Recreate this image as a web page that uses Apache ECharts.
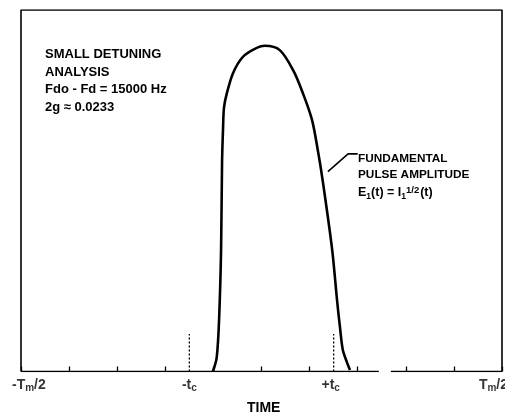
<!DOCTYPE html>
<html><head><meta charset="utf-8">
<script src="https://cdn.jsdelivr.net/npm/echarts@6/dist/echarts.min.js"></script>
<style>html,body{margin:0;padding:0;background:#fff}#c{width:505px;height:417px}</style>
</head><body><div id="c"></div>
<script>
// Data
const pulseTime = [-1.01, -0.93, -0.88, -0.84, -0.82, -0.80, -0.78, -0.72, -0.59, -0.39, -0.15, 0.07, 0.38, 0.66, 0.86, 1.05, 1.18, 1.28, 1.47, 1.57, 1.63, 1.69, 1.78, 1.84];
const pulseAmp  = [0, 4, 15, 34, 58, 67, 73, 77, 82.6, 87, 89.2, 90.1, 88.9, 83.3, 77, 69.6, 60.5, 52.1, 33.6, 19.8, 12.4, 6, 2.4, 0.4];
const tcTimes = [-1.5, 1.5];
const tcHeight = 10.4;
const tickLabelTimes = [-5, -1.5, 1.5, 5];
const tickLabels = ['-T{s|m}/2', '-t{s|c}', '+t{s|c}', 'T{s|m}/2'];
const baselineGap = [2.44, 2.69];
const xMin = -5, xMax = 5, yMax = 100;
const leaderTime = [2.0, 1.8, 1.38];
const leaderAmp = [60.2, 60.2, 55.3];

const FONT = '"Liberation Sans", Arial, sans-serif';
const chart = echarts.init(document.getElementById('c'));

const curve = pulseTime.map((t, i) => [t, pulseAmp[i]]);
const baseline = [[xMin, 0], [baselineGap[0], 0], null, [baselineGap[1], 0], [xMax, 0]];
const frame = [[xMin, 0], [xMin, yMax], [xMax, yMax], [xMax, 0]];
const tcLines = [];
tcTimes.forEach(t => { tcLines.push([t, 0], [t, tcHeight], null); });
const labelData = tickLabelTimes.map((t, i) => {
  const item = { value: [t, 0], label: { formatter: tickLabels[i] } };
  if (i === 0) item.label.align = 'left', item.label.offset = [-9, 0];
  if (i === tickLabelTimes.length - 1) item.label.align = 'right', item.label.offset = [6, 0];
  if (i === 2) item.label.offset = [-3, 0];
  return item;
});
const leader = leaderTime.map((t, i) => [t, leaderAmp[i]]);

const richBase = {
  s: { fontSize: 10, fontWeight: 'bold', fontFamily: FONT, color: '#000', padding: [7, 0, 0, 0] }
};

chart.setOption({
  animation: false,
  backgroundColor: '#fff',
  grid: { left: 21, right: 3, top: 10, bottom: 45.5 },
  xAxis: {
    type: 'value', min: xMin, max: xMax, interval: 1,
    axisLine: { show: false },
    axisTick: { show: true, inside: true, length: 5, lineStyle: { color: '#000', width: 1.3 } },
    axisLabel: { show: false },
    splitLine: { show: false }
  },
  yAxis: { type: 'value', min: 0, max: yMax, show: false, splitLine: { show: false } },
  series: [
    { type: 'line', data: frame, showSymbol: false, lineStyle: { color: '#000', width: 1.6 }, silent: true },
    { type: 'line', data: baseline, showSymbol: false, connectNulls: false, lineStyle: { color: '#000', width: 1.6 }, silent: true },
    { type: 'line', data: tcLines, showSymbol: false, connectNulls: false, lineStyle: { color: '#000', width: 1.3, type: [2, 2] }, silent: true },
    { type: 'line', data: curve, smooth: 0.3, showSymbol: false, lineStyle: { color: '#000', width: 2.6 }, silent: true },
    { type: 'line', data: leader, showSymbol: false, lineStyle: { color: '#000', width: 1.6 }, silent: true },
    { type: 'scatter', data: labelData, symbolSize: 0, silent: true,
      label: { show: true, position: 'bottom', distance: 5, color: '#000', fontSize: 14, fontWeight: 'bold', fontFamily: FONT, rich: richBase } }
  ],
  graphic: [
    { type: 'text', left: 45, top: 46, style: { text: 'SMALL DETUNING\nANALYSIS\nFdo - Fd = 15000 Hz\n2g ≈ 0.0233', font: 'bold 13px ' + FONT, lineHeight: 17.5, fill: '#000' } },
    { type: 'text', left: 358, top: 151, style: { text: 'FUNDAMENTAL\nPULSE AMPLITUDE', font: 'bold 11.8px ' + FONT, lineHeight: 16, fill: '#000' } },
    { type: 'text', left: 358, top: 185, style: {
        text: 'E{s|1}(t) = I{s|1}{p|1/2}(t)', font: 'bold 12.5px ' + FONT, fill: '#000',
        rich: {
          s: { fontSize: 8.5, fontWeight: 'bold', fontFamily: FONT, padding: [7, 0, 0, 0] },
          p: { fontSize: 9.5, fontWeight: 'bold', fontFamily: FONT, padding: [0, 1, 6, 0] }
        } } },
    { type: 'text', left: 247, top: 401, style: { text: 'TIME', font: 'bold 14px ' + FONT, fill: '#000' } }
  ]
});
</script></body></html>
